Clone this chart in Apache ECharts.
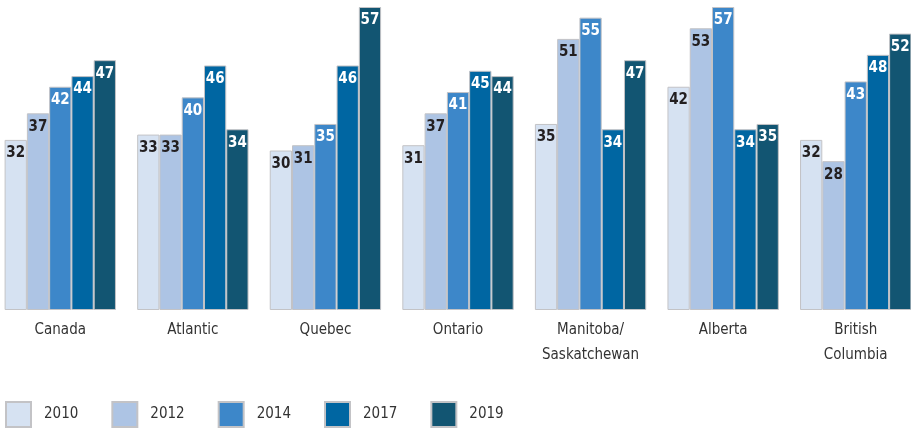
<!DOCTYPE html>
<html>
<head>
<meta charset="utf-8">
<script src="https://cdn.jsdelivr.net/npm/echarts@6/dist/echarts.min.js"></script>
<style>
html,body{margin:0;padding:0;background:#fff;overflow:hidden;}
#main{width:928px;height:429px;margin-left:-6px;}
</style>
</head>
<body>
<div id="main"></div>
<script>
// categories and series values
var regions = ['Canada', 'Atlantic', 'Quebec', 'Ontario', 'Manitoba/\nSaskatchewan', 'Alberta', 'British\nColumbia'];
var years = ['2010', '2012', '2014', '2017', '2019'];
var v2010 = [32, 33, 30, 31, 35, 42, 32];
var v2012 = [37, 33, 31, 37, 51, 53, 28];
var v2014 = [42, 40, 35, 41, 55, 57, 43];
var v2017 = [44, 46, 46, 45, 34, 34, 48];
var v2019 = [47, 34, 57, 44, 47, 35, 52];

var allValues = [v2010, v2012, v2014, v2017, v2019];
var colors = ['#d6e2f2', '#adc4e4', '#3d87c9', '#0066a2', '#125572'];
var labelColors = ['#231f20', '#231f20', '#fff', '#fff', '#fff'];
var fontFam = "'Liberation Sans Narrow', 'DejaVu Sans Condensed', sans-serif";

var series = [];
for (var i = 0; i < years.length; i++) {
	series.push({
		name: years[i],
		type: 'bar',
		data: allValues[i],
		barGap: 0,
		barCategoryGap: '16%',
		itemStyle: {color: colors[i], borderColor: '#c3c3c6', borderWidth: 1},
		label: {
			show: true,
			position: 'insideTop',
			distance: 6,
			color: labelColors[i],
			fontWeight: 'bold',
			fontSize: 15,
			fontFamily: fontFam
		},
		emphasis: {disabled: true}
	});
}

var myChart = echarts.init(document.getElementById('main'));
var option = {
	animation: false,
	grid: {left: 0, right: 0, top: 7, bottom: 119, containLabel: false},
	legend: {
		left: 11,
		top: 401,
		padding: 0,
		icon: 'rect',
		itemWidth: 25,
		itemHeight: 25,
		itemGap: 33,
		data: years,
		textStyle: {fontSize: 15, color: '#333', fontFamily: fontFam, padding: [0, 0, 0, 8]}
	},
	xAxis: {
		type: 'category',
		data: regions,
		axisLine: {show: false},
		axisTick: {show: false},
		axisLabel: {fontSize: 15, color: '#333', fontFamily: fontFam, margin: 8, lineHeight: 25}
	},
	yAxis: {
		type: 'value',
		min: 0,
		max: 57,
		show: false
	},
	series: series
};
myChart.setOption(option);
</script>
</body>
</html>
